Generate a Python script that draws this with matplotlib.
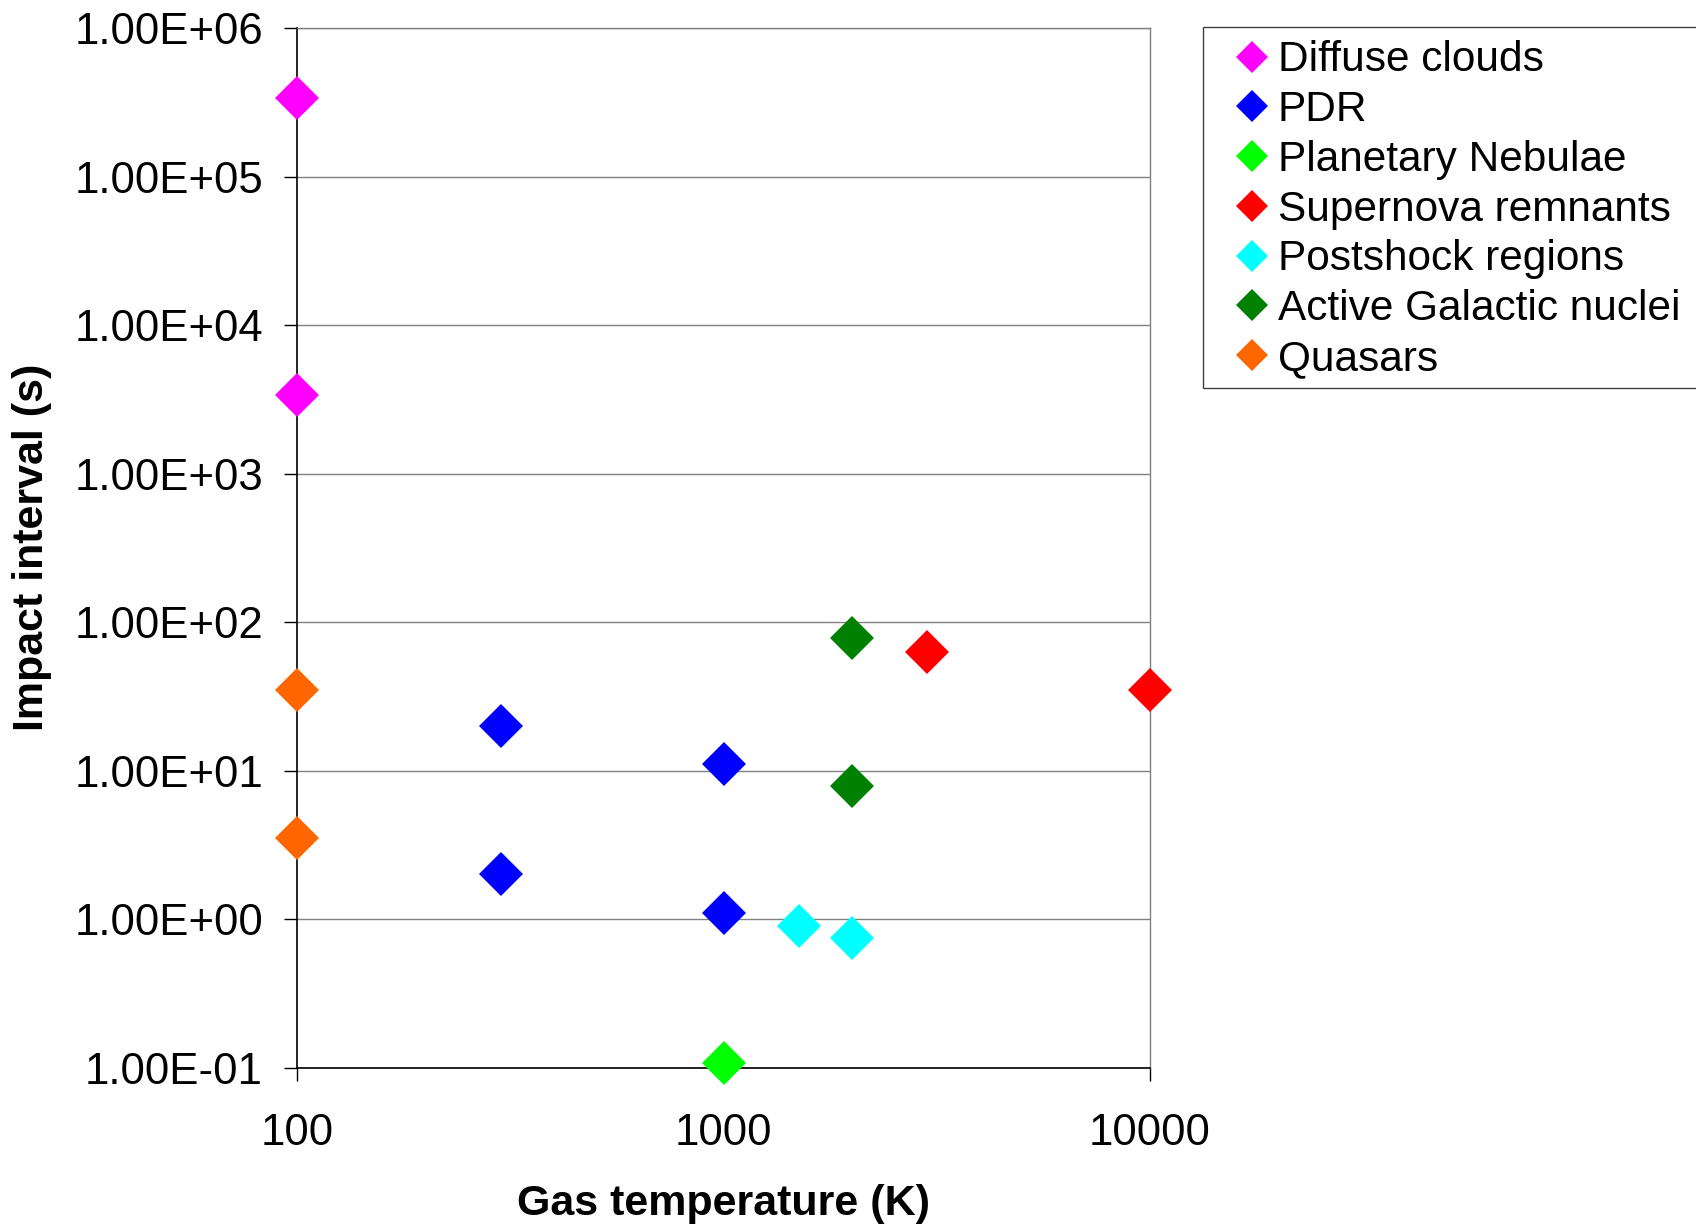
import matplotlib
matplotlib.use('Agg')
import matplotlib.pyplot as plt
from matplotlib.patches import Rectangle
from matplotlib.ticker import FuncFormatter, FixedLocator, NullLocator

plt.rcParams['font.family'] = ['Liberation Sans', 'DejaVu Sans']

# gas temperature (K) / impact interval (s) for each kind of source
diffuse_T = [100, 100]
diffuse_t = [3.4e5, 3.4e3]
pdr_T = [300, 300, 1000, 1000]
pdr_t = [20, 2.0, 11, 1.1]
pn_T = [1000]
pn_t = [0.107]
snr_T = [3000, 10000]
snr_t = [63, 35]
post_T = [1500, 2000]
post_t = [0.9, 0.75]
agn_T = [2000, 2000]
agn_t = [78, 7.9]
qso_T = [100, 100]
qso_t = [35, 3.5]

series = [
    ('Diffuse clouds', diffuse_T, diffuse_t, '#FF00FF'),
    ('PDR', pdr_T, pdr_t, '#0000FF'),
    ('Planetary Nebulae', pn_T, pn_t, '#00FF00'),
    ('Supernova remnants', snr_T, snr_t, '#FF0000'),
    ('Postshock regions', post_T, post_t, '#00FFFF'),
    ('Active Galactic nuclei', agn_T, agn_t, '#008000'),
    ('Quasars', qso_T, qso_t, '#FF6600'),
]

W, H = 1696, 1229
fig = plt.figure(figsize=(W / 100, H / 100), dpi=100)
ax = fig.add_axes([0.1754, 0.1314, 0.5026, 0.8458])

for name, xs, ys, col in series:
    ax.plot(xs, ys, linestyle='none', marker='D', markersize=22,
            markeredgewidth=0, color=col, label=name, clip_on=False, zorder=5)

ax.set_xscale('log')
ax.set_yscale('log')
ax.set_xlim(100, 10000)
ax.set_ylim(0.1, 1e6)

ax.xaxis.set_major_locator(FixedLocator([100, 1000, 10000]))
ax.xaxis.set_minor_locator(NullLocator())
ax.xaxis.set_major_formatter(FuncFormatter(lambda v, p: '%d' % round(v)))
ax.yaxis.set_major_locator(FixedLocator([10.0 ** k for k in range(-1, 7)]))
ax.yaxis.set_minor_locator(NullLocator())
ax.yaxis.set_major_formatter(FuncFormatter(lambda v, p: '%.2E' % v))

ax.tick_params(axis='y', direction='out', length=9.4, width=1, pad=15.5,
               labelsize=31.5, right=False)
ax.tick_params(axis='x', direction='out', length=9.4, width=1, pad=23,
               labelsize=31.5, top=False)

ax.grid(axis='y', color='#808080', linewidth=1)
ax.set_axisbelow(True)
for side in ['left', 'bottom']:
    ax.spines[side].set_color('black')
    ax.spines[side].set_linewidth(1.2)
for side in ['top', 'right']:
    ax.spines[side].set_color('#808080')
    ax.spines[side].set_linewidth(1)

ax.set_xlabel('Gas temperature (K)', fontsize=31, fontweight='bold', va='center')
ax.xaxis.set_label_coords(0.5, -(1204 - 1067.5) / 1039.5)
ax.set_ylabel('Impact interval (s)', fontsize=31, fontweight='bold', va='center')
ax.yaxis.set_label_coords((32 - 297.5) / 852.5, 0.5)

# legend box (runs off the right edge like the original)
fig.patches.append(Rectangle((1203 / W, 1 - 388 / H), 520 / W, 361 / H,
                             transform=fig.transFigure, facecolor='white',
                             edgecolor='#404040', linewidth=1, zorder=0))
leg = fig.legend(loc='upper left', bbox_to_anchor=(1222 / W, 1 - 32 / H),
                 borderaxespad=0, fontsize=30.5, numpoints=1, markerscale=0.72,
                 handlelength=1.0, handletextpad=0.12, labelspacing=0.23,
                 borderpad=0.2, frameon=False)

fig.savefig('out.png', dpi=100)
